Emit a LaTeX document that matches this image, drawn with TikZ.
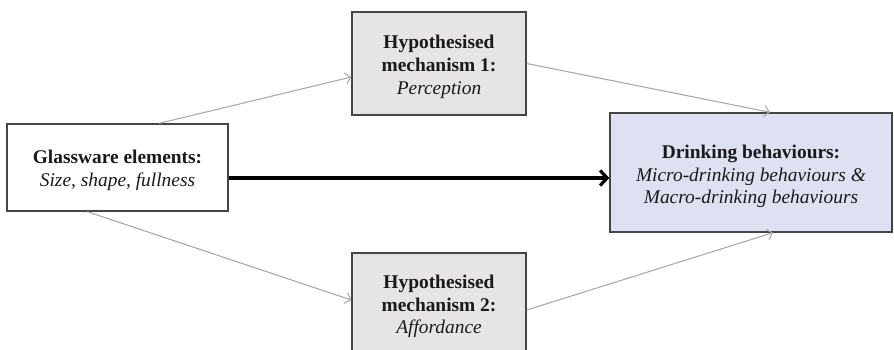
\documentclass[tikz,border=0pt]{standalone}
\usepackage{fontspec}
\setmainfont{Liberation Serif}
\usetikzlibrary{arrows.meta,calc}
\definecolor{boxline}{HTML}{454545}
\definecolor{mechfill}{HTML}{E6E4E4}
\definecolor{drinkfill}{HTML}{DDE1F1}
\definecolor{thinarrow}{HTML}{ABABAB}
\definecolor{textgray}{HTML}{1A1A1A}
\tikzset{
  boxbase/.style={draw=boxline, line width=1.4pt, inner sep=0pt},
  glassbox/.style={boxbase, fill=white, minimum width=221pt, minimum height=87pt},
  mechbox/.style={boxbase, fill=mechfill, minimum width=174pt, minimum height=103pt},
  drinkbox/.style={boxbase, fill=drinkfill, minimum width=282pt, minimum height=119pt},
  boxtext/.style={align=center, inner sep=0pt, text=textgray,
    font=\fontsize{19.4}{22.8}\selectfont},
  grayarrow/.style={draw=thinarrow, line width=1.1pt, -{Straight Barb[length=5pt,width=11pt]}},
  mainarrow/.style={draw=black, line width=3.2pt, -{Straight Barb[length=7pt,width=15pt,line width=3.2pt]}}
}
\begin{document}
\begin{tikzpicture}[x=1pt,y=-1pt]
\useasboundingbox (0,0) rectangle (894,350);
\fill[white] (0,0) rectangle (894,350);
\clip (0,0) rectangle (894,350);
\node[glassbox] (g) at (117.5,167.5) {};
\node[mechbox] (m1) at (439,63.5) {};
\node[mechbox] (m2) at (439,304.5) {};
\node[drinkbox] (d) at (751,172.5) {};
\node[boxtext] (gt) at ([yshift=-3pt]g.center) {\textbf{Glassware elements:}\\\textit{Size, shape, fullness}};
\node[boxtext] (m1t) at ([yshift=-3.5pt]m1.center) {\textbf{Hypothesised}\\\textbf{mechanism 1:}\\\textit{Perception}};
\node[boxtext] (m2t) at ([yshift=-2pt]m2.center) {\textbf{Hypothesised}\\\textbf{mechanism 2:}\\\textit{Affordance}};
\node[boxtext] (dt) at ([yshift=-4pt]d.center) {\textbf{Drinking behaviours:}\\\textit{Micro-drinking behaviours \&}\\\textit{Macro-drinking behaviours}};
\draw[grayarrow] ([xshift=153pt]g.north west) -- ([yshift=-13.5pt]m1.west);
\draw[grayarrow] (m1.east) -- ([xshift=19pt]d.north);
\draw[grayarrow] ([xshift=81pt]g.south west) -- ([yshift=4.5pt]m2.west);
\draw[grayarrow] ([yshift=-5.5pt]m2.east) -- ([xshift=22pt]d.south);
\draw[mainarrow] ([yshift=-10.5pt]g.east) -- ([yshift=-5.5pt]d.west);
\end{tikzpicture}
\end{document}
